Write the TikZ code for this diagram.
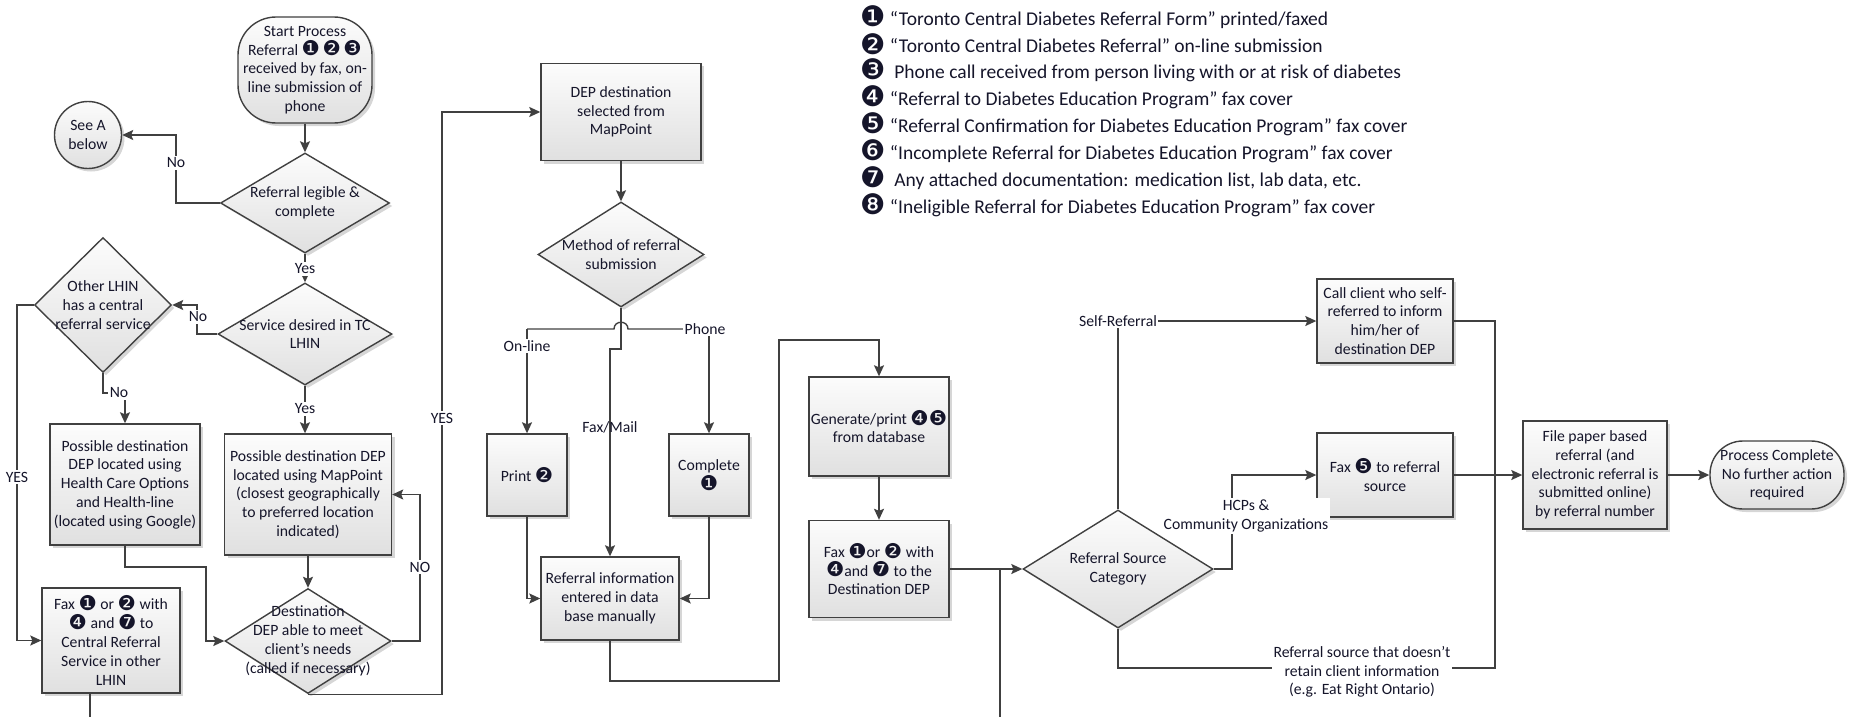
\documentclass[tikz,border=0pt]{standalone}
\usepackage{fontspec}
\setmainfont{Carlito}
\newfontfamily\dvfont{DejaVu Sans}
\usetikzlibrary{shapes.geometric,arrows.meta,shadows}
\definecolor{lc}{HTML}{404040}
\definecolor{ftop}{HTML}{FCFCFC}
\definecolor{fbot}{HTML}{E0E0E0}
\definecolor{shc}{HTML}{C4C4C4}
\definecolor{txt}{HTML}{15152A}
\newcommand\ci[1]{\raisebox{-0.12ex}{\scalebox{1.3}{\dvfont #1}}}
\newcommand\cl[1]{\raisebox{-0.15ex}{\scalebox{1.45}{\dvfont #1}}}
\newcommand\nf{\fontsize{15.7}{18.8}\selectfont}
\newcommand\lf{\fontsize{19.5}{21}\selectfont}
\begin{document}
\begin{tikzpicture}[x=1pt,y=-1pt,
  every node/.style={text=txt},
  ln/.style={draw=lc,line width=1.4pt},
  arr/.style={ln,-{Stealth[length=11pt,width=10pt,inset=2pt]}},
  shade/.style={top color=ftop,bottom color=fbot,
     drop shadow={shadow xshift=3pt,shadow yshift=-3pt,fill=shc,opacity=0.7}},
  proc/.style 2 args={rectangle,draw=lc,line width=1.4pt,shade,align=center,font=\nf,
     inner sep=2pt,minimum width=#1,minimum height=#2},
  term/.style 2 args={rectangle,rounded corners=33pt,draw=lc,line width=1.4pt,shade,align=center,font=\nf,
     inner sep=2pt,minimum width=#1,minimum height=#2},
  circ/.style={circle,draw=lc,line width=1.4pt,shade,align=center,font=\nf,inner sep=0pt,minimum size=67pt},
  dia/.style 2 args={diamond,draw=lc,line width=1.4pt,shade,inner sep=0pt,minimum width=#1,minimum height=#2},
  dtxt/.style={align=center,font=\nf,inner sep=0pt},
  lab/.style={fill=white,inner sep=1.5pt,font=\nf,align=center},
  leg/.style={anchor=west,font=\lf,inner sep=0pt}]
\useasboundingbox (0,0) rectangle (1855,717);

% ---------- legend ----------
\node[leg] (leg1) at (860,17) {\cl{❶} “Toronto Central Diabetes Referral Form” printed/faxed};
\node[leg] (leg2) at (860,44) {\cl{❷} “Toronto Central Diabetes Referral” on-line submission};
\node[leg] (leg3) at (860,70) {\cl{❸}\ \ Phone call received from person living with or at risk of diabetes};
\node[leg] (leg4) at (860,97) {\cl{❹} “Referral to Diabetes Education Program” fax cover};
\node[leg] (leg5) at (860,124) {\cl{❺} “Referral Confirmation for Diabetes Education Program” fax cover};
\node[leg] (leg6) at (860,151) {\cl{❻} “Incomplete Referral for Diabetes Education Program” fax cover};
\node[leg] (leg7) at (860,178) {\cl{❼}\ \ Any attached documentation: medication list, lab data, etc.};
\node[leg] (leg8) at (860,205) {\cl{❽} “Ineligible Referral for Diabetes Education Program” fax cover};

% ---------- left column ----------
\node[term={134}{106},rounded corners=38pt] (start) at (305,70) {Start Process\\Referral \ci{❶}\,\ci{❷}\,\ci{❸}\\received by fax, on-\\line submission of\\phone};
\node[circ] (seeA) at (88,135) {See A\\below};
\node[dia={169}{100}] (d1) at (305,203) {};
\node[dtxt] (d1t) at (d1) {Referral legible \&\\complete};
\node[dia={174}{102}] (d2) at (305,334) {};
\node[dtxt] (d2t) at (d2) {Service desired in TC\\LHIN};
\node[dia={137}{135}] (lhin) at (103,305) {};
\node[dtxt] (lhint) at (lhin) {Other LHIN\\has a central\\referral service};
\node[proc={150}{121}] (b1) at (125,484.5) {Possible destination\\DEP located using\\Health Care Options\\and Health-line\\(located using Google)};
\node[proc={167}{121}] (b2) at (308,494.5) {Possible destination DEP\\located using MapPoint\\(closest geographically\\to preferred location\\indicated)};
\node[proc={138}{105}] (fax1) at (111,640.5) {Fax \ci{❶} or \ci{❷} with\\\ci{❹} and \ci{❼} to\\Central Referral\\Service in other\\LHIN};
\node[dia={166}{105}] (dest) at (308,641) {};
\node[dtxt] (destt) at (dest) {Destination\\DEP able to meet\\client’s needs\\(called if necessary)};

% ---------- middle ----------
\node[proc={160}{97}] (dep) at (621,112) {DEP destination\\selected from\\MapPoint};
\node[dia={166}{105}] (meth) at (621,254.5) {};
\node[dtxt] (metht) at (meth) {Method of referral\\submission};
\node[proc={80}{82}] (print) at (527,475) {Print \ci{❷}};
\node[proc={80}{82}] (compl) at (709,475) {Complete\\\ci{❶}};
\node[proc={138}{83}] (ref) at (610,598.5) {Referral information\\entered in data\\base manually};
\node[proc={140}{99}] (gen) at (879,426.5) {Generate/print \ci{❹}\ci{❺}\\from database};
\node[proc={140}{97}] (faxdep) at (879,569) {Fax \ci{❶}or \ci{❷} with\\\ci{❹}and \ci{❼} to the\\Destination DEP};

% ---------- right ----------
\node[dia={190}{118}] (rsc) at (1118,569) {};
\node[dtxt] (rsct) at (rsc) {Referral Source\\Category};
\node[proc={136}{84}] (call) at (1385,321) {Call client who self-\\referred to inform\\him/her of\\destination DEP};
\node[proc={136}{84}] (fax5) at (1385,475) {Fax \ci{❺} to referral\\source};
\node[proc={144}{108}] (file) at (1595,475) {File paper based\\referral (and\\electronic referral is\\submitted online)\\by referral number};
\node[term={134}{68}] (done) at (1777,475) {Process Complete\\No further action\\required};

% ---------- connectors ----------
\draw[arr] (start) -- (d1);
\draw[arr] (d1.west) -- (176,203) |- (seeA.east);
\draw[arr] (d1) -- (d2);
\draw[arr] (d2.west) -- (197,334) |- (lhin.east);
\draw[arr] (lhin.south) -- (103,393) -- (125,393) -- (b1.north);
\draw[arr] (lhin.west) -- (17,305) |- (fax1.west);
\draw[arr] (d2.south) -- (d2.south |- b2.north);
\draw[arr] (b2) -- (dest);
\draw[arr] (b1.south) |- (206,567) |- (dest.west);
\draw[arr] (dest.east) -- (420,641) |- (b2.east);
\draw[arr] (dest.south) -| (442,112) -- (dep.west);
\coordinate (f1b) at (90,717);
\draw[ln] (f1b |- fax1.south) -- (f1b);

\draw[arr] (dep) -- (meth);
\coordinate (jL) at (527,329);
\coordinate (jR) at (709,329);
\draw[ln] (jL) -- (614,329) .. controls (614,320) and (628,320) .. (628,329) -- (jR);
\draw[arr] (jL) -- (print.north);
\draw[arr] (jR) -- (compl.north);
\draw[arr] (meth.south) -- (621,349) -| (ref.north);
\draw[arr] (print.south) |- (ref.west);
\draw[arr] (compl.south) |- (ref.east);
\draw[arr] (ref.south) -- (610,681) -- (779,681) -- (779,340) -| (gen.north);
\draw[arr] (gen) -- (faxdep);
\draw[arr] (faxdep) -- (rsc);
\coordinate (vb) at (1000,717);
\draw[ln] (vb) -- (vb |- faxdep.east);

\coordinate (sr) at (1118,321);
\draw[ln] (rsc.north) -- (sr);
\draw[arr] (sr) -- (call.west);
\draw[arr] (rsc.east) -- (1232,569) |- (fax5.west);
\draw[ln] (call.east) -| (1495,668) -| (rsc.south);
\draw[arr] (fax5) -- (file);
\draw[arr] (file) -- (done);

% ---------- labels ----------
\node[lab] (lNo1) at (176,163) {No};
\node[lab] (lYes1) at (305,269) {Yes};
\node[lab] (lNo2) at (198,317) {No};
\node[lab] (lNo3) at (119,393) {No};
\node[lab] (lYES1) at (17,477) {YES};
\node[lab] (lYes2) at (305,409) {Yes};
\node[lab] (lNO) at (420,567) {NO};
\node[lab] (lYES2) at (442,418) {YES};
\node[lab] (lon) at (527,346) {On-line};
\node[lab] (lph) at (705,329) {Phone};
\node[lab,fill=none] (lfm) at (610,427) {Fax/Mail};
\node[lab] (lsr) at (1118,321) {Self-Referral};
\node[lab] (lhcp) at (1246,516) {HCPs \&\\Community Organizations};
\node[lab] (lret) at (1362,672) {Referral source that doesn’t\\retain client information\\(e.g. Eat Right Ontario)};
\end{tikzpicture}
\end{document}
